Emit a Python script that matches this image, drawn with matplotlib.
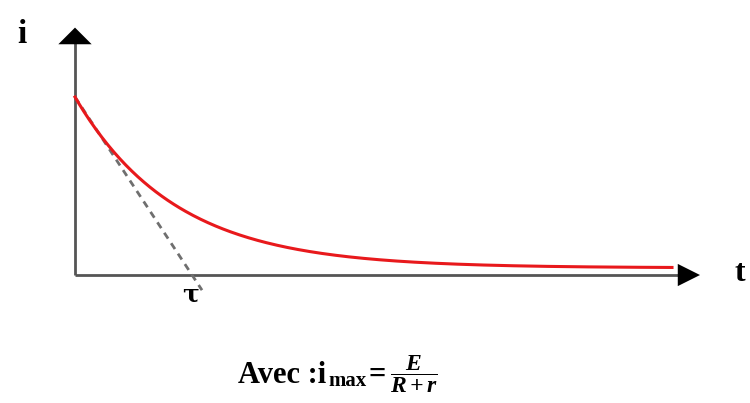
import numpy as np
import matplotlib
matplotlib.use('Agg')
import matplotlib.pyplot as plt

# mathtext in Times-like serif
plt.rcParams['mathtext.fontset'] = 'custom'
plt.rcParams['mathtext.rm'] = 'Liberation Serif'
plt.rcParams['mathtext.bf'] = 'Liberation Serif:bold'
plt.rcParams['mathtext.it'] = 'Liberation Serif:italic'
plt.rcParams['mathtext.bfit'] = 'Liberation Serif:bold:italic'

# curve data (t in units of tau, i in units of i_max)
tau = 1.0
i_max = 1.0
i_end = 0.04          # curve levels off a little above the axis
t_stop = 5.97         # red curve ends here
t_axis_end = 6.25     # horizontal arrow tip
i_axis_end = 1.39     # vertical arrow tip
tangent_t = [0.0, 1.27]
tangent_i = [1.0, -0.085]

t = np.linspace(0, t_stop, 400)
i = (i_max - i_end) * np.exp(-t / tau) + i_end

W, H = 750, 403
fig = plt.figure(figsize=(W / 100, H / 100), dpi=100)
ax = fig.add_axes([0, 0, 1, 1])
ax.set_xlim(-0.75, 6.75)
ax.set_ylim(-0.719, 1.545)
ax.axis('off')

# axes lines
ax.plot([0, 0], [0, i_axis_end - 0.05], color='#555555', lw=2, solid_capstyle='butt')
ax.plot([0, t_axis_end - 0.1], [0, 0], color='#555555', lw=2, solid_capstyle='butt')
arrow = dict(arrowstyle='-|>,head_length=0.8,head_width=0.4', mutation_scale=20,
             color='black', lw=0, shrinkA=0, shrinkB=0)
ax.annotate('', xy=(0, i_axis_end), xytext=(0, i_axis_end - 0.1),
            arrowprops=dict(arrow, arrowstyle='-|>,head_length=0.6,head_width=0.6'))
ax.annotate('', xy=(t_axis_end, 0), xytext=(t_axis_end - 0.25, 0), arrowprops=arrow)

# tangent and curve
ax.plot(tangent_t, tangent_i, color='#6f6f6f', lw=2, ls=(0, (2.5, 2)))
ax.plot(t, i, color='#e8191c', lw=2.2)

# labels
ax.text(-0.53, 1.35, 'i', fontsize=24, fontweight='bold', family='Liberation Serif',
        ha='center', va='center')
ax.text(6.65, 0.01, 't', fontsize=23, fontweight='bold', family='Liberation Serif',
        ha='center', va='center')
ax.text(1.16, -0.11, 'τ', fontsize=18, fontweight='bold', family='DejaVu Serif',
        ha='center', va='center')

# formula below the chart, placed piece by piece (pixel positions -> figure fraction)
def fpos(x, y):
    return x / W, 1 - y / H

serif = dict(family='Liberation Serif', fontweight='bold', transform=fig.transFigure)
fig.text(*fpos(238, 383), 'Avec :i', fontsize=22, ha='left', va='baseline', **serif)
fig.text(*fpos(328, 386), 'max', fontsize=15, ha='left', va='baseline', **serif)
fig.text(*fpos(368, 383), '=', fontsize=22, ha='left', va='baseline', **serif)
fig.text(*fpos(414, 374), r'$\dfrac{\mathbfit{E}}{\mathbfit{R+r}}$', fontsize=17,
         ha='center', va='center', transform=fig.transFigure)

fig.savefig('out.png', dpi=100)
